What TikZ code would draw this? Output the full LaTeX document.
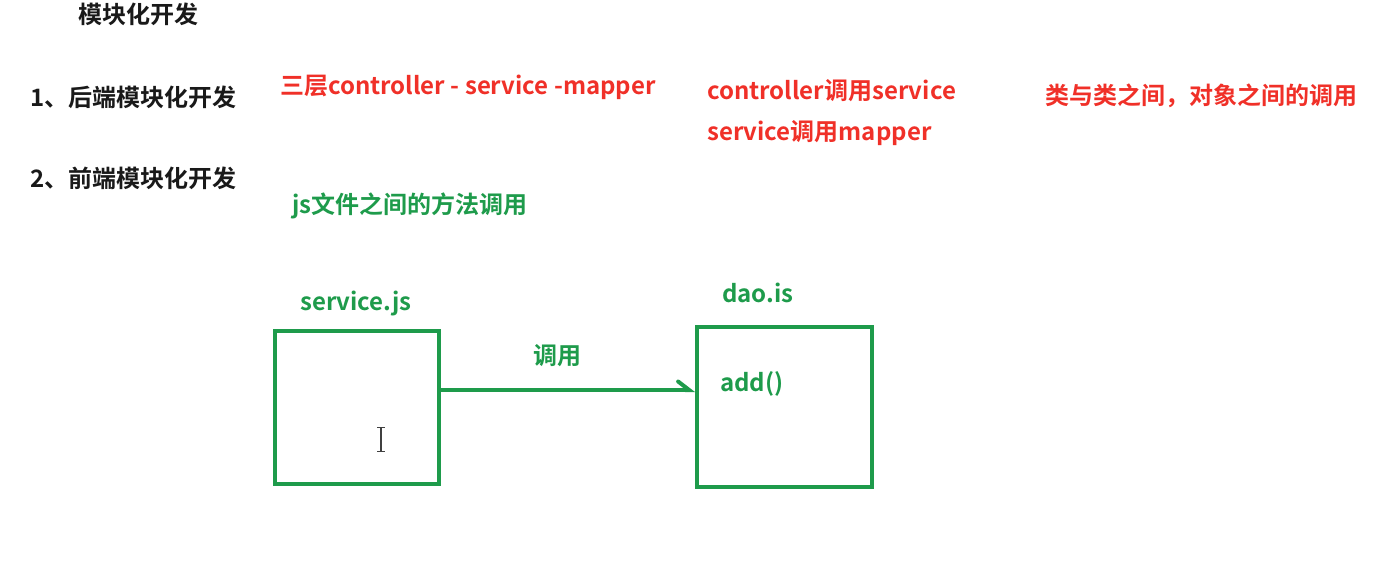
\documentclass[tikz,border=0pt]{standalone}
\usepackage{fontspec}
\setmainfont{Noto Sans CJK SC}[BoldFont={Noto Sans CJK SC Bold}]
\usetikzlibrary{arrows.meta,positioning}

\definecolor{notered}{RGB}{240,48,40}
\definecolor{notegreen}{RGB}{30,155,75}

\begin{document}
\begin{tikzpicture}[x=1pt, y=-1pt,
  font=\bfseries\fontsize{24}{28}\selectfont,
  txt/.style={inner sep=0pt, anchor=base west},
  head/.style={txt, black!90},
  red/.style={txt, notered},
  green/.style={txt, notegreen},
  filebox/.style={draw=notegreen, line width=4pt, inner sep=0pt},
  callarrow/.style={draw=notegreen, line width=4pt,
    -{Straight Barb[left, length=11pt, width=17pt, line cap=round]}},
]
\useasboundingbox (0,0) rectangle (1398,563);

% ======================= Headings =======================
\node[head] (title) at (78,23) {模块化开发};
\node[head] (backend) at (30,106) {1、后端模块化开发};
\node[head] (frontend) at (30,187) {2、前端模块化开发};

% ======================= Back end notes =================
\node[red] (layers) at (280,94) {三层controller - service -mapper};
\node[red] (ctrl) at (707,99) {controller调用service};
\node[red] (svc) at (707,140) {service调用mapper};
\node[red] (classes) at (1045,104) {类与类之间，对象之间的调用};

% ======================= Front end ======================
\node[green] (jsnote) at (292,213) {js文件之间的方法调用};
\node[green] (svcname) at (300,310) {service.js};
\node[green] (daoname) at (722,302) {dao.is};
\node[filebox, minimum width=164pt, minimum height=153pt] (svcbox) at (357,407.5) {};
\node[filebox, minimum width=175pt, minimum height=160pt] (daobox) at (784.5,407) {};
\node[green] (add) at (720,391) {add()};

% ===================== Call arrow =======================
\draw[callarrow] ([yshift=17.5pt]svcbox.east) -- ([yshift=17pt]daobox.west);
\node[green] (call) at (533,364) {调用};

% mouse cursor left in the box
\draw[black!75, line width=1.2pt] (381,427) -- (381,451);
\draw[black!75, line width=1pt] (377,427) -- (385,427) (377,451) -- (385,451);
\end{tikzpicture}
\end{document}
